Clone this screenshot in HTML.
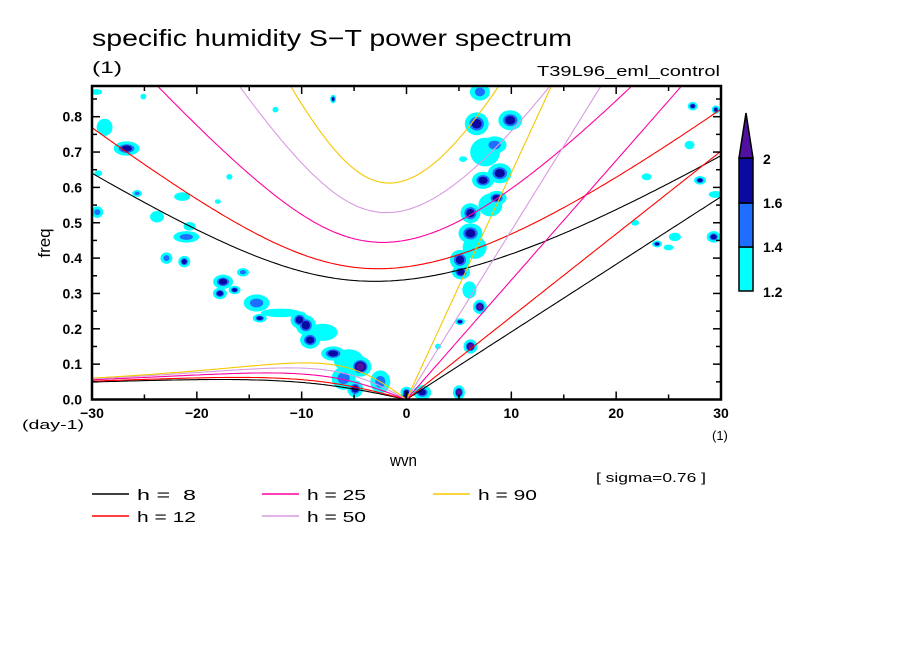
<!DOCTYPE html>
<html><head><meta charset="utf-8">
<style>
html,body{margin:0;padding:0;background:#fff;}
body{width:904px;height:654px;overflow:hidden;font-family:"Liberation Sans",sans-serif;}
svg text{font-family:"Liberation Sans",sans-serif;}
</style></head>
<body>
<svg id="chart" width="904" height="654" viewBox="0 0 904 654" xmlns="http://www.w3.org/2000/svg">
<text x="92" y="46" font-size="23" fill="#000" textLength="480" lengthAdjust="spacingAndGlyphs">specific humidity S−T power spectrum</text>
<text x="92" y="73" font-size="17" fill="#000" textLength="30" lengthAdjust="spacingAndGlyphs">(1)</text>
<text x="537" y="76" font-size="15" fill="#000" textLength="183" lengthAdjust="spacingAndGlyphs">T39L96_eml_control</text>
<text x="50" y="243" font-size="17" text-anchor="middle" transform="rotate(-90 50 243)" fill="#000">freq</text>
<text x="22" y="429" font-size="13" fill="#000" textLength="62" lengthAdjust="spacingAndGlyphs">(day-1)</text>
<text x="712" y="440" font-size="13" fill="#000">(1)</text>
<text x="390" y="466" font-size="17" fill="#000" textLength="27" lengthAdjust="spacingAndGlyphs">wvn</text>
<text x="596" y="482" font-size="13" fill="#000" textLength="110" lengthAdjust="spacingAndGlyphs">[ sigma=0.76 ]</text>
<g id="blobs"></g>
<g id="curves"></g>
<g id="axes"></g>
<g id="legend"></g>
<g id="cbar"></g>
</svg>
<script>
// data
const depths = [8, 12, 25, 50, 90];
const depthColors = ["#000000", "#ff0000", "#ff00a0", "#d79be0", "#f5c800"];
const xTicks = [-30, -20, -10, 0, 10, 20, 30];
const yTicks = [0.0, 0.1, 0.2, 0.3, 0.4, 0.5, 0.6, 0.7, 0.8];
const levels = [1.2, 1.4, 1.6, 2];
const levelColors = ["#00ffff", "#1e6eff", "#0a0aa0", "#5010a0"];
// blobs: wavenumber, freq, radius in k, radius in f, highest level index (0..3)
const blobK = [-29.6,-25.1,-7.0,-28.8,-26.7,-29.4,-25.7,-29.5,-21.4,-23.8,-21.0,-20.7,-22.9,-21.2,-17.5,-15.6,-17.8,-16.4,-14.3,-14.0,-10.2,-9.6,-9.2,-7.0,-4.4,-4.9,0.0,-6.0,-2.5,
 7.0,9.9,6.7,8.4,8.9,7.3,8.6,6.1,6.1,5.1,5.2,6.0,7.0,5.1,6.1,5.0,1.5,-0.1,27.3,29.5,27.0,28.0,29.5,29.3,25.6,23.9,25.0,22.9,21.8,3.0,5.4,-16.9,-18.0,-12.5,
 -12.0,-8.0,-5.5,7.5,6.5,8.0];
const blobF = [0.87,0.857,0.85,0.77,0.71,0.64,0.583,0.53,0.574,0.517,0.46,0.49,0.40,0.39,0.333,0.36,0.30,0.31,0.273,0.23,0.225,0.21,0.168,0.13,0.093,0.03,0.02,0.06,0.05,
 0.87,0.79,0.78,0.72,0.64,0.62,0.57,0.527,0.47,0.395,0.36,0.31,0.262,0.22,0.15,0.02,0.02,0.01,0.83,0.82,0.72,0.62,0.58,0.46,0.46,0.44,0.43,0.63,0.50,0.15,0.68,0.63,0.56,0.82,
 0.245,0.19,0.11,0.70,0.43,0.55];
const blobRK = [0.6,0.3,0.3,0.8,1.3,0.4,0.5,0.6,0.8,0.7,1.3,0.6,0.6,0.6,1.0,0.6,0.7,0.6,1.3,0.7,0.9,1.0,1.0,1.2,1.1,0.8,0.6,1.2,1.0,
 1.0,1.2,1.2,1.2,1.2,1.1,1.0,1.0,1.2,1.0,0.9,0.7,0.7,0.5,0.7,0.6,0.9,0.5,0.5,0.4,0.5,0.6,0.7,0.7,0.6,0.5,0.5,0.5,0.4,0.3,0.4,0.3,0.3,0.3,
 2.0,1.5,1.5,1.5,1.2,1.2];
const blobRF = [0.01,0.01,0.015,0.03,0.025,0.01,0.012,0.02,0.015,0.02,0.02,0.015,0.02,0.02,0.025,0.015,0.02,0.015,0.03,0.015,0.03,0.035,0.03,0.025,0.035,0.03,0.02,0.04,0.04,
 0.03,0.035,0.04,0.03,0.035,0.03,0.025,0.035,0.035,0.035,0.025,0.03,0.025,0.012,0.025,0.025,0.025,0.02,0.015,0.015,0.015,0.015,0.012,0.02,0.015,0.012,0.01,0.012,0.01,0.01,0.01,0.01,0.008,0.01,
 0.015,0.03,0.04,0.05,0.04,0.04];
const blobLev = [0,0,2,0,2,0,1,1,0,0,1,0,1,2,2,1,2,2,1,2,2,2,2,2,3,2,2,1,1,
 1,2,2,1,2,2,2,2,2,2,2,0,3,2,3,3,2,2,2,2,0,2,0,2,0,2,0,0,0,0,0,0,0,0,
 0,0,0,0,0,0];

const NS='http://www.w3.org/2000/svg';
const X0=92,X1=721,Y0=399.5,Y1=86;
const xs=k=>X0+(k+30)/60*(X1-X0);
const ys=f=>Y0-f/0.1*35.35;
function mk(tag,attrs,parent){const e=document.createElementNS(NS,tag);for(const a in attrs)e.setAttribute(a,attrs[a]);parent.appendChild(e);return e;}

const defs=mk('defs',{},document.getElementById('chart'));
const cp=mk('clipPath',{id:'plotclip'},defs);
mk('rect',{x:X0,y:Y1,width:X1-X0,height:Y0-Y1},cp);

// blobs
const bg=document.getElementById('blobs');
bg.setAttribute('clip-path','url(#plotclip)');
for(let lv=0;lv<4;lv++){
  for(let i=0;i<blobK.length;i++){
    if(blobLev[i]<lv)continue;
    const sc=(blobLev[i]+1-lv)/(blobLev[i]+1);
    const m=(lv===0?0.95:0.75)*(0.3+0.7*sc);
    const e=mk('ellipse',{cx:xs(blobK[i]),cy:ys(blobF[i]),rx:blobRK[i]*10.48*m,ry:blobRF[i]*353.5*m*0.85,fill:levelColors[lv]},bg);
    
    
  }
}

// dispersion curves
const g=9.81,a=6.371e6,beta=2*7.292e-5/a;
const cg=document.getElementById('curves');
cg.setAttribute('clip-path','url(#plotclip)');
function cpd(w,c){return w*Math.sqrt(c*beta)*86400/(2*Math.PI);}
function kn(s,c){return s/a*Math.sqrt(c/beta);}
function ig(k){let w=Math.sqrt(k*k+3)+0.5;for(let i=0;i<50;i++){const f=w*w*w-(k*k+3)*w-k,d=3*w*w-(k*k+3);w-=f/d;}return w;}
depths.forEach((h,j)=>{
  const c=Math.sqrt(g*h);const col=depthColors[j];
  let p1=[],p2=[],p3=[];
  for(let s=-30;s<=30.001;s+=0.25){
    const k=kn(s,c);
    p1.push(xs(s).toFixed(1)+','+ys(cpd(ig(k),c)).toFixed(1));
    if(s<=0)p2.push(xs(s).toFixed(1)+','+ys(cpd(-k/(k*k+3),c)).toFixed(1));
    if(s>=0)p3.push(xs(s).toFixed(1)+','+ys(cpd(k,c)).toFixed(1));
  }
  [['ig',p1],['er',p2],['kelvin',p3]].forEach(([n,p])=>{
    const pl=mk('polyline',{points:p.join(' '),fill:'none',stroke:col,'stroke-width':1.1},cg);
    
    
  });
});

// axes
const ax=document.getElementById('axes');
const fr=mk('rect',{x:X0,y:Y1,width:X1-X0,height:Y0-Y1,fill:'none',stroke:'#000','stroke-width':2.5},ax);

for(let k=-30;k<=30;k+=5){
  const L=(k%10===0)?8:5;
  mk('line',{x1:xs(k),y1:Y0,x2:xs(k),y2:Y0-L,stroke:'#000','stroke-width':1.5},ax);
  mk('line',{x1:xs(k),y1:Y1,x2:xs(k),y2:Y1+L,stroke:'#000','stroke-width':1.5},ax);
}
for(let f=0;f<=0.851;f+=0.05){
  const L=(Math.round(f*20)%2===0)?8:5;
  mk('line',{x1:X0,y1:ys(f),x2:X0+L,y2:ys(f),stroke:'#000','stroke-width':1.5},ax);
  mk('line',{x1:X1,y1:ys(f),x2:X1-L,y2:ys(f),stroke:'#000','stroke-width':1.5},ax);
}
xTicks.forEach(k=>{const t=mk('text',{x:xs(k),y:418,'font-size':14,'font-weight':'bold','text-anchor':'middle'},ax);t.textContent=(k<0?'−':'')+Math.abs(k);
  });
yTicks.forEach(f=>{const t=mk('text',{x:82,y:ys(f)+5,'font-size':14,'font-weight':'bold','text-anchor':'end'},ax);t.textContent=f.toFixed(1);
  });

// legend
const lg=document.getElementById('legend');
const lx=[92,92,262,262,433],ly=[494,516,494,516,494];
depths.forEach((h,j)=>{
  const ln=mk('line',{x1:lx[j],y1:ly[j],x2:lx[j]+37,y2:ly[j],stroke:depthColors[j],'stroke-width':1.5},lg);
  
  const t=mk('text',{x:lx[j]+45,y:ly[j]+6,'font-size':15,textLength:59,lengthAdjust:'spacingAndGlyphs'},lg);
  t.textContent='h = '+(h<10?'\u00a0'+h:h);
  
});

// colorbar
const cb=document.getElementById('cbar');
const cbx=739,cbw=14,boxes=[[247,291],[203,247],[158,203]];
boxes.forEach((b,i)=>{const r=mk('rect',{x:cbx,y:b[0],width:cbw,height:b[1]-b[0],fill:levelColors[i],stroke:'#000','stroke-width':1.5},cb);
  });
const tri=mk('polygon',{points:`${cbx},158 ${cbx+cbw},158 ${cbx+cbw/2},113`,fill:levelColors[3],stroke:'#000','stroke-width':1.5},cb);

const cbY=[297,252,208,164];
levels.forEach((v,i)=>{const t=mk('text',{x:763,y:cbY[i],'font-size':14,'font-weight':'bold'},cb);t.textContent=String(v);
  });
</script>
</body></html>
